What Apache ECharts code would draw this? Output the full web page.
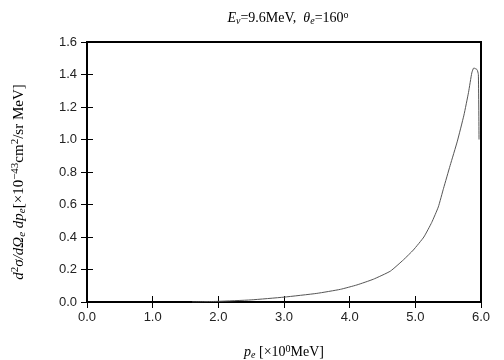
<!DOCTYPE html>
<html>
<head>
<meta charset="utf-8">
<script src="https://cdn.jsdelivr.net/npm/echarts@6/dist/echarts.min.js"></script>
<style>
  html, body { margin: 0; padding: 0; background: #fff; }
  #chartmain { width: 504px; height: 360px; }
</style>
</head>
<body>
<div id="chartmain"></div>
<script>
// electron momentum p_e [MeV]
var pe = [1.6, 2.0, 2.5, 3.0, 3.5, 3.86, 4.11, 4.36, 4.62, 4.82, 4.97, 5.13, 5.25, 5.35,
  5.43, 5.53, 5.64, 5.74, 5.81, 5.86, 5.89, 5.94, 5.96, 5.97]
// d2sigma/dOmega dp_e [x10^-43 cm2/sr MeV]
var sigma = [0.0, 0.004, 0.013, 0.03, 0.053, 0.078, 0.105, 0.14, 0.19, 0.26, 0.32, 0.4, 0.49, 0.585,
  0.7, 0.84, 0.99, 1.15, 1.29, 1.41, 1.44, 1.43, 1.4, 1.0]
var xTicks = { min: 0, max: 6, interval: 1 }
var yTicks = { min: 0, max: 1.6, interval: 0.2 }

var points = pe.map(function (p, i) {
  return [p, sigma[i]]
})

var serif = 'Liberation Serif'
var sans = 'Liberation Sans'
var labelColor = '#222'

function nameRich(size) {
  return {
    i: { fontFamily: serif, fontStyle: 'italic', fontWeight: 'normal', fontSize: size, color: '#000' },
    s: { fontFamily: serif, fontStyle: 'italic', fontWeight: 'normal', fontSize: size - 4, color: '#000', padding: [6, 0, 0, 0] },
    u: { fontFamily: serif, fontWeight: 'normal', fontSize: size - 4, color: '#000', padding: [0, 0, 7, 0] },
    n: { fontFamily: serif, fontWeight: 'normal', fontSize: size, color: '#000' },
  }
}

var option = {
  backgroundColor: '#fff',
  animation: false,
  title: {
    text: '{i|E}{s|ν}{n|=9.6MeV,  }{i|θ}{s|e}{n|=160}{u|o}',
    left: 283,
    textAlign: 'center',
    top: 5,
    textStyle: { fontWeight: 'normal', rich: nameRich(14) },
  },
  grid: {
    left: 87,
    right: 23,
    top: 42,
    bottom: 58,
    outerBoundsMode: 'none',
    show: true,
    borderColor: '#000',
    borderWidth: 2,
  },
  xAxis: [
    {
      type: 'value',
      min: xTicks.min,
      max: xTicks.max,
      interval: xTicks.interval,
      position: 'bottom',
      name: '{i|p}{s|e}{n| [×10}{u|0}{n|MeV]}',
      nameLocation: 'middle',
      nameGap: 42,
      nameTextStyle: { rich: nameRich(14) },
      axisLine: { show: true, lineStyle: { color: '#000', width: 2 } },
      axisTick: { show: true, inside: true, length: 6, lineStyle: { color: '#000' } },
      axisLabel: {
        color: labelColor,
        fontFamily: sans,
        fontSize: 13,
        margin: 9,
        formatter: function (v) { return v.toFixed(1) },
      },
      splitLine: { show: false },
    },
    {
      type: 'value',
      min: xTicks.min,
      max: xTicks.max,
      interval: xTicks.interval,
      position: 'top',
      axisLine: { show: true, lineStyle: { color: '#000', width: 2 } },
      axisTick: { show: true, inside: true, length: 6, lineStyle: { color: '#000' } },
      axisLabel: { show: false },
      splitLine: { show: false },
    },
  ],
  yAxis: [
    {
      type: 'value',
      min: yTicks.min,
      max: yTicks.max,
      interval: yTicks.interval,
      position: 'left',
      name: '{i|d}{u|2}{i|σ/dΩ}{s|e}{i| dp}{s|e}{n|[×10}{u|−43}{n|cm}{u|2}{n|/sr MeV]}',
      nameLocation: 'middle',
      nameRotate: 90,
      nameGap: 59,
      nameTextStyle: { rich: nameRich(15), padding: [0, 20, 0, 0] },
      axisLine: { show: true, lineStyle: { color: '#000', width: 2 } },
      axisTick: { show: true, inside: true, length: 6, lineStyle: { color: '#000' } },
      axisLabel: {
        color: labelColor,
        fontFamily: sans,
        fontSize: 13,
        margin: 10,
        formatter: function (v) { return v.toFixed(1) },
      },
      splitLine: { show: false },
    },
    {
      type: 'value',
      min: yTicks.min,
      max: yTicks.max,
      interval: yTicks.interval,
      position: 'right',
      axisLine: { show: true, lineStyle: { color: '#000', width: 2 } },
      axisTick: { show: true, inside: true, length: 6, lineStyle: { color: '#000' } },
      axisLabel: { show: false },
      splitLine: { show: false },
    },
  ],
  series: [
    {
      type: 'line',
      xAxisIndex: 0,
      yAxisIndex: 0,
      data: points,
      symbol: 'none',
      smooth: 0.15,
      lineStyle: { color: '#555', width: 1 },
    },
  ],
}

var myChart = echarts.init(document.getElementById('chartmain'))
myChart.setOption(option)
</script>
</body>
</html>
